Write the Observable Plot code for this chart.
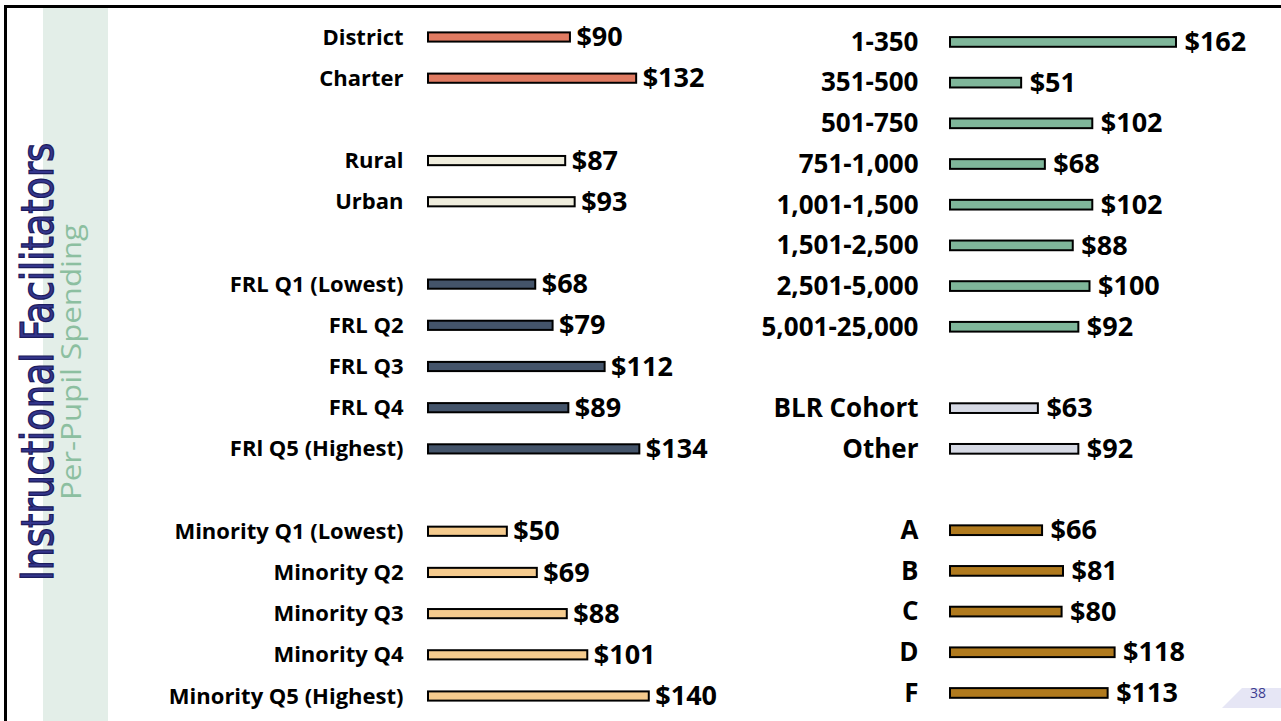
<!DOCTYPE html>
<html>
<head>
<meta charset="utf-8">
<script src="https://cdn.jsdelivr.net/npm/d3@7"></script>
<script src="https://cdn.jsdelivr.net/npm/@observablehq/plot@0.6"></script>
<style>
  html, body { margin: 0; padding: 0; background: #fff; }
  #wrap { position: relative; width: 1281px; height: 721px; overflow: hidden; background: #fff; }
  #wrap > svg { position: absolute; left: 0; top: 0; }
</style>
</head>
<body>
<div id="wrap"></div>
<script>
// ---- Slide texts ----
const titleText = "Instructional Facilitators";
const subtitleText = "Per-Pupil Spending";
const pageNumber = "38";

// ---- Left panel data (null = blank gap row) ----
const leftLabels = ["District", "Charter", null, "Rural", "Urban", null,
  "FRL Q1 (Lowest)", "FRL Q2", "FRL Q3", "FRL Q4", "FRl Q5 (Highest)", null,
  "Minority Q1 (Lowest)", "Minority Q2", "Minority Q3", "Minority Q4", "Minority Q5 (Highest)"];
const leftValues = [90, 132, null, 87, 93, null, 68, 79, 112, 89, 134, null, 50, 69, 88, 101, 140];
const leftGroups = ["type", "type", null, "locale", "locale", null,
  "frl", "frl", "frl", "frl", "frl", null,
  "minority", "minority", "minority", "minority", "minority"];

// ---- Right panel data ----
const rightLabels = ["1-350", "351-500", "501-750", "751-1,000", "1,001-1,500", "1,501-2,500",
  "2,501-5,000", "5,001-25,000", null, "BLR Cohort", "Other", null, "A", "B", "C", "D", "F"];
const rightValues = [162, 51, 102, 68, 102, 88, 100, 92, null, 63, 92, null, 66, 81, 80, 118, 113];
const rightGroups = ["size", "size", "size", "size", "size", "size", "size", "size", null,
  "cohort", "cohort", null, "grade", "grade", "grade", "grade", "grade"];

const groupDomain = ["type", "locale", "frl", "minority", "size", "cohort", "grade"];
const groupColors = ["#e07b62", "#efeddd", "#44546a", "#f5cb8e", "#7fb69a", "#d6d9e4", "#b07a1e"];

const W = 1281, H = 721;
const wrap = document.getElementById("wrap");

function rows(labels, values, groups) {
  return labels.map((l, i) => ({i, label: l, value: values[i], group: groups[i]})).filter(d => d.label != null);
}

function panel(labels, values, groups, o) {
  const data = rows(labels, values, groups);
  return Plot.plot({
    width: W,
    height: H,
    marginLeft: o.left,
    marginRight: W - o.left - o.pxPerUnit * 200,
    marginTop: o.top,
    marginBottom: o.bottom,
    x: {domain: [0, 200], axis: null},
    y: {type: "band", domain: d3.range(labels.length), padding: 0, round: false, axis: null, label: null},
    color: {domain: groupDomain, range: groupColors},
    style: {background: "transparent", fontFamily: "'Open Sans', sans-serif", color: "#000", overflow: "visible"},
    marks: [
      Plot.axisY({tickSize: 0, tickPadding: o.pad, tickFormat: i => labels[i] ?? "", label: null,
        fontSize: o.labelSize, fontWeight: "bold", fill: "#000"}),
      Plot.barX(data, {x: "value", y: "i", fill: "group", stroke: "#000", strokeWidth: 2,
        insetTop: o.inset, insetBottom: o.inset}),
      Plot.text(data, {x: "value", y: "i", text: d => "$" + d.value, dx: o.dx, textAnchor: "start",
        fontSize: o.valueSize, fontWeight: "bold", fill: "#000"})
    ]
  });
}

const left = panel(leftLabels, leftValues, leftGroups,
  {left: 428, pxPerUnit: 1.577, top: 16.4, bottom: 4.4, pad: 25, labelSize: 22, valueSize: 27, dx: 6, inset: 16});
const right = panel(rightLabels, rightValues, rightGroups,
  {left: 950, pxPerUnit: 1.395, top: 21.6, bottom: 7.7, pad: 32, labelSize: 26, valueSize: 27, dx: 8, inset: 15.5});
wrap.appendChild(left);
wrap.appendChild(right);

// ---- Slide decoration (frame, side band, rotated titles, page number) on top ----
const base = d3.create("svg").attr("width", W).attr("height", H).attr("viewBox", [0, 0, W, H])
  .style("pointer-events", "none").style("overflow", "visible");
base.append("rect").attr("x", 43).attr("y", 8).attr("width", 65).attr("height", H - 8).attr("fill", "#e3eee8");
base.append("path").attr("d", `M5.5,${H} V6.5 H${W}`)
  .attr("fill", "none").attr("stroke", "#000").attr("stroke-width", 3);
base.append("text").text(titleText)
  .attr("transform", "translate(53,362) rotate(-90)")
  .attr("text-anchor", "middle")
  .attr("textLength", 438).attr("lengthAdjust", "spacingAndGlyphs")
  .attr("font-family", "'Liberation Sans Narrow', 'DejaVu Sans Condensed', 'Open Sans', sans-serif")
  .attr("font-size", 44)
  .attr("fill", "#34368c").attr("stroke", "#1c1c5e").attr("stroke-width", 1.3);
base.append("text").text(subtitleText)
  .attr("transform", "translate(81,362) rotate(-90)")
  .attr("text-anchor", "middle")
  .attr("textLength", 276).attr("lengthAdjust", "spacingAndGlyphs")
  .attr("font-family", "'Open Sans', sans-serif").attr("font-weight", 400).attr("font-size", 27)
  .attr("fill", "#8cbfa0");
base.append("polygon").attr("points", `1222,708 1242,688 ${W},688 ${W},708`).attr("fill", "#e6e6f5");
base.append("text").text(pageNumber)
  .attr("x", 1258).attr("y", 698).attr("text-anchor", "middle")
  .attr("font-family", "'Open Sans', sans-serif").attr("font-size", 14).attr("fill", "#3b3b8f");
wrap.appendChild(base.node());
</script>
</body>
</html>
